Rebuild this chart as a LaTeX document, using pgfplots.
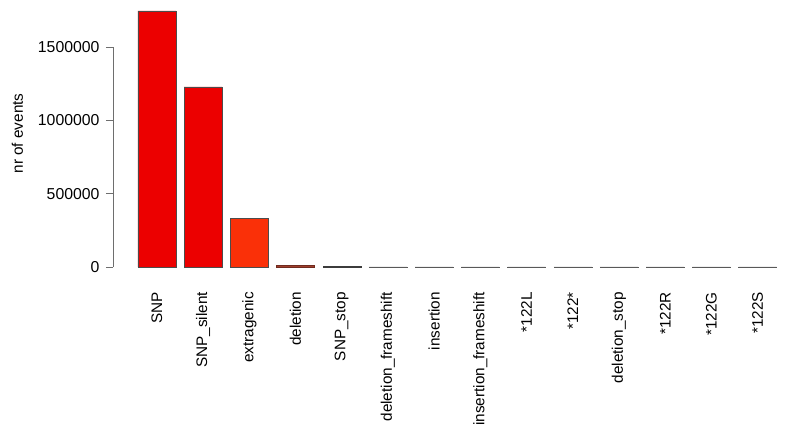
\documentclass[border=0pt]{standalone}
\usepackage{fontspec}
\setmainfont{Liberation Sans}
\usepackage{pgfplots}
\pgfplotsset{compat=1.18}

\definecolor{barred}{RGB}{236,0,0}
\definecolor{barorange}{RGB}{250,48,8}
\definecolor{bardel}{RGB}{160,62,44}
\definecolor{barstop}{RGB}{60,60,60}
\definecolor{axgray}{RGB}{110,110,110}

\begin{document}
\begin{tikzpicture}
\begin{axis}[
  /pgf/number format/assume math mode=true,
  scale only axis,
  width=676pt,
  height=267pt,
  xmin=-0.95, xmax=13.68,
  ymin=0, ymax=1820500,
  axis lines=left,
  axis line style={draw=none},
  xtick={0,...,13},
  xticklabels={SNP,SNP\_silent,extragenic,deletion,SNP\_stop,deletion\_frameshift,insertion,insertion\_frameshift,*122L,*122*,deletion\_stop,*122R,*122G,*122S},
  xticklabel style={rotate=90, anchor=east, font=\fontsize{15.3}{18}\selectfont, inner sep=0pt},
  xticklabel shift=18pt,
  x tick style={draw=none},
  ytick={0,500000,1000000,1500000},
  yticklabel style={/pgf/number format/fixed, /pgf/number format/1000 sep={}, font=\fontsize{15.8}{18}\selectfont, xshift=-3pt},
  scaled y ticks=false,
  y tick style={axgray, thick},
  tick align=outside,
  major tick length=7pt,
  ylabel={nr of events},
  ylabel style={font=\fontsize{15.3}{18}\selectfont, yshift=8pt},
  clip=false,
  ybar, bar width=38pt, bar shift=0pt,
]
\draw[axgray, thick] (axis cs:-0.95,0) -- (axis cs:-0.95,1500000);
\path (rel axis cs:0,1) ++(-113pt,0pt) coordinate (bbl);
\path (bbl) -- (rel axis cs:1,1);
\addplot[fill=barred, draw=black!70] coordinates {(0,1746000) (1,1228000)};
\addplot[fill=barorange, draw=black!70] coordinates {(2,334000)};
\addplot[fill=bardel, draw=bardel!70!black] coordinates {(3,15000)};
\addplot[fill=barstop, draw=barstop] coordinates {(4,6000)};
\addplot[fill=gray, draw=gray!70!black] coordinates {(5,900) (6,700) (7,500) (8,400) (9,300) (10,250) (11,200) (12,150) (13,100)};
\end{axis}
\end{tikzpicture}
\end{document}
